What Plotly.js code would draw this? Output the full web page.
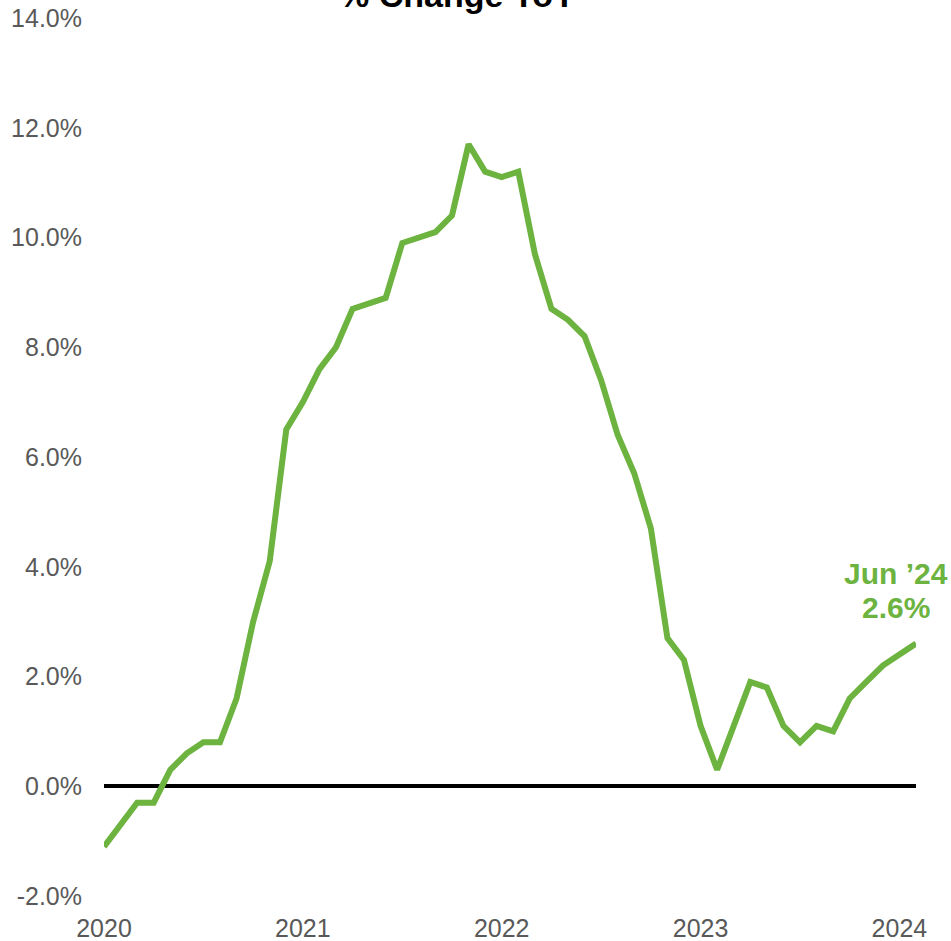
<!DOCTYPE html>
<html>
<head>
<meta charset="utf-8">
<script src="https://cdn.plot.ly/plotly-3.0.1.min.js"></script>
<style>
  html, body { margin: 0; padding: 0; background: #fff; }
  #chart { width: 951px; height: 941px; }
</style>
</head>
<body>
<div id="chart"></div>
<script>
var months = [
  "May-20","Jun-20","Jul-20","Aug-20","Sep-20","Oct-20","Nov-20","Dec-20",
  "Jan-21","Feb-21","Mar-21","Apr-21","May-21","Jun-21","Jul-21","Aug-21","Sep-21","Oct-21","Nov-21","Dec-21",
  "Jan-22","Feb-22","Mar-22","Apr-22","May-22","Jun-22","Jul-22","Aug-22","Sep-22","Oct-22","Nov-22","Dec-22",
  "Jan-23","Feb-23","Mar-23","Apr-23","May-23","Jun-23","Jul-23","Aug-23","Sep-23","Oct-23","Nov-23","Dec-23",
  "Jan-24","Feb-24","Mar-24","Apr-24","May-24","Jun-24"
];
var yoyChange = [
  -1.1,-0.7,-0.3,-0.3,0.3,0.6,0.8,0.8,
  1.6,3.0,4.1,6.5,7.0,7.6,8.0,8.7,8.8,8.9,9.9,10.0,
  10.1,10.4,11.7,11.2,11.1,11.2,9.7,8.7,8.5,8.2,7.4,6.4,
  5.7,4.7,2.7,2.3,1.1,0.3,1.1,1.9,1.8,1.1,0.8,1.1,
  1.0,1.6,1.9,2.2,2.4,2.6
];
var yearTickVals = ["May-20","May-21","May-22","May-23","May-24"];
var yearTickText = ["2020","2021","2022","2023","2024"];
var yTickVals = [-2, 0, 2, 4, 6, 8, 10, 12, 14];
var yTickText = ["-2.0%","0.0%","2.0%","4.0%","6.0%","8.0%","10.0%","12.0%","14.0%"];
var titleText = "% Change YoY";
var lastLabel = "Jun \u201924";

var green = "#6CB33F";
var tickGrey = "#595959";
var fontFam = "Liberation Sans, Arial, sans-serif";

var lastIdx = yoyChange.length - 1;

var trace = {
  type: "scatter",
  mode: "lines",
  x: months,
  y: yoyChange,
  line: { color: green, width: 6 },
  hoverinfo: "skip"
};

var layout = {
  width: 951,
  height: 941,
  margin: { l: 104, r: 35, t: 18, b: 45, pad: 0 },
  paper_bgcolor: "#ffffff",
  plot_bgcolor: "#ffffff",
  showlegend: false,
  font: { family: fontFam, color: tickGrey },
  xaxis: {
    type: "category",
    range: [0, lastIdx],
    tickmode: "array",
    tickvals: yearTickVals,
    ticktext: yearTickText,
    showgrid: false,
    zeroline: false,
    showline: false,
    ticks: "",
    ticklabelstandoff: 15,
    tickfont: { family: fontFam, size: 25, color: tickGrey },
    fixedrange: true
  },
  yaxis: {
    range: [-2, 14],
    tickmode: "array",
    tickvals: yTickVals,
    ticktext: yTickText,
    showgrid: false,
    zeroline: true,
    zerolinecolor: "#000000",
    zerolinewidth: 4,
    showline: false,
    ticks: "",
    ticklabelstandoff: 21,
    tickfont: { family: fontFam, size: 25, color: tickGrey },
    fixedrange: true
  },
  annotations: [
    {
      x: 0.435,
      y: 1,
      xref: "paper",
      yref: "paper",
      text: "<b>" + titleText + "</b>",
      showarrow: false,
      xanchor: "center",
      yanchor: "bottom",
      yshift: 2,
      font: { family: fontFam, size: 34, color: "#000000" }
    },
    {
      x: months[lastIdx],
      y: yoyChange[lastIdx],
      xref: "x",
      yref: "y",
      text: "<b>" + lastLabel + "</b>",
      showarrow: false,
      xanchor: "center",
      yanchor: "bottom",
      xshift: -20,
      yshift: 52,
      font: { family: fontFam, size: 30, color: green }
    },
    {
      x: months[lastIdx],
      y: yoyChange[lastIdx],
      xref: "x",
      yref: "y",
      text: "<b>" + yoyChange[lastIdx].toFixed(1) + "%</b>",
      showarrow: false,
      xanchor: "center",
      yanchor: "bottom",
      xshift: -20,
      yshift: 18,
      font: { family: fontFam, size: 30, color: green }
    }
  ]
};

Plotly.newPlot("chart", [trace], layout, { displayModeBar: false, staticPlot: true });
</script>
</body>
</html>
